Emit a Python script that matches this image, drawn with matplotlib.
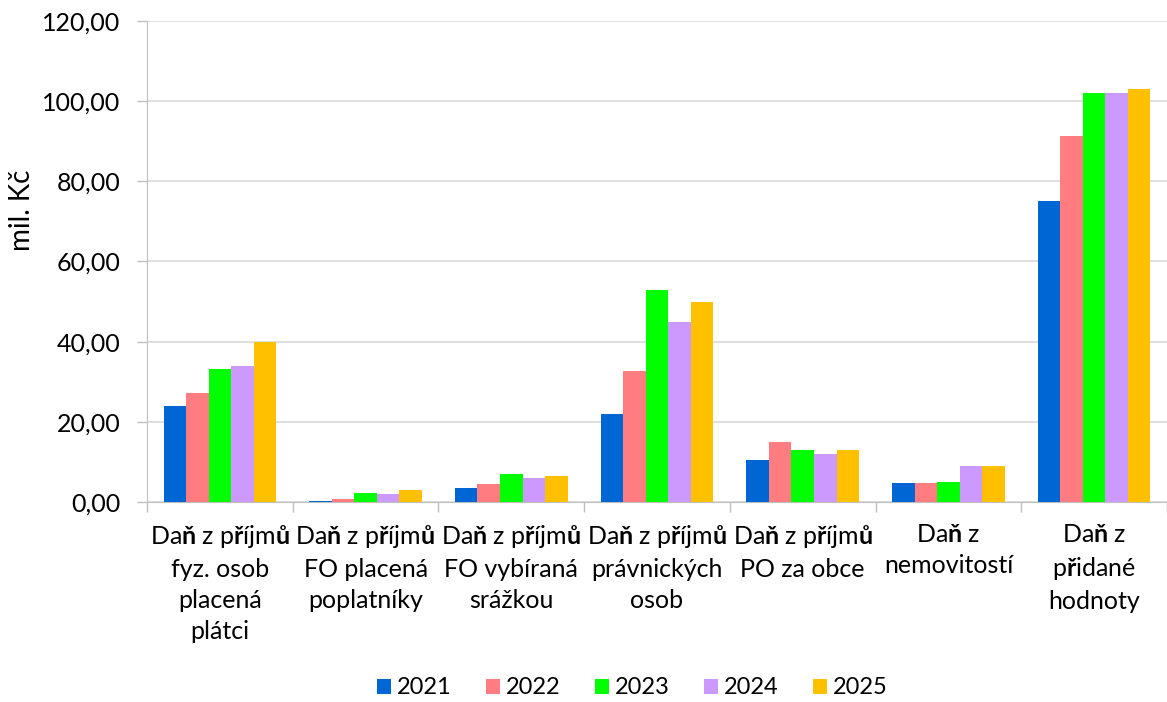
import matplotlib
matplotlib.use("Agg")
import matplotlib.pyplot as plt
import numpy as np
from matplotlib.ticker import FuncFormatter, FixedLocator

plt.rcParams['font.family'] = ['Lato', 'DejaVu Sans']
plt.rcParams['mathtext.fontset'] = 'custom'
plt.rcParams['mathtext.rm'] = 'Lato'
plt.rcParams['mathtext.bf'] = 'Lato:bold'

categories = [
    "Da$\\mathbf{ň}$ z p$\\mathbf{ř}$íjm$\\mathbf{ů}$\nfyz. osob\nplacená\nplátci",
    "Da$\\mathbf{ň}$ z p$\\mathbf{ř}$íjm$\\mathbf{ů}$\nFO placená\npoplatníky",
    "Da$\\mathbf{ň}$ z p$\\mathbf{ř}$íjm$\\mathbf{ů}$\nFO vybíraná\nsrážkou",
    "Da$\\mathbf{ň}$ z p$\\mathbf{ř}$íjm$\\mathbf{ů}$\nprávnických\nosob",
    "Da$\\mathbf{ň}$ z p$\\mathbf{ř}$íjm$\\mathbf{ů}$\nPO za obce",
    "Da$\\mathbf{ň}$ z\nnemovitostí",
    "Da$\\mathbf{ň}$ z\np$\\mathbf{ř}$idané\nhodnoty",
]
years = ["2021", "2022", "2023", "2024", "2025"]
v2021 = [24.0, 0.2, 3.4, 22.0, 10.4, 4.8, 75.0]
v2022 = [27.1, 0.8, 4.5, 32.8, 14.9, 4.8, 91.3]
v2023 = [33.1, 2.3, 7.1, 53.0, 12.9, 5.1, 102.0]
v2024 = [33.9, 1.9, 6.0, 44.9, 11.9, 9.1, 102.0]
v2025 = [40.0, 2.9, 6.4, 50.0, 12.9, 9.1, 103.0]
series = [v2021, v2022, v2023, v2024, v2025]
colors = ["#0066D4", "#FF7C80", "#00FF00", "#CC99FF", "#FFC000"]

W, H = 1167, 702
fig = plt.figure(figsize=(W / 100, H / 100), dpi=100)
ax = fig.add_axes([147 / W, (702 - 502) / H, (1167 - 147) / W, (502 - 21) / H])

x = np.arange(len(categories))
bw = 0.1547
for i, (vals, col, yr) in enumerate(zip(series, colors, years)):
    ax.bar(x + (i - 2) * bw, vals, width=bw, color=col, label=yr, zorder=3)

ax.set_xlim(-0.5, len(categories) - 0.5)
ax.set_ylim(0, 120)
ax.yaxis.set_major_locator(FixedLocator(np.arange(0, 121, 20)))
ax.yaxis.set_major_formatter(FuncFormatter(lambda v, p: f"{v:.2f}".replace('.', ',')))
ax.grid(axis='y', color='#D9D9D9', linewidth=1.2, zorder=0)

ax.set_xticks(x)
ax.set_xticklabels(categories, fontsize=18, linespacing=1.42)
ax.set_xticks(np.arange(-0.5, len(categories), 1), minor=True)
ax.tick_params(axis='x', which='major', length=0, pad=15)
ax.tick_params(axis='x', which='minor', length=7, color='#BFBFBF', width=1)
ax.tick_params(axis='y', which='major', length=7, color='#BFBFBF', width=1, labelsize=18, pad=12)

for s in ['top', 'right']:
    ax.spines[s].set_visible(False)
ax.spines['left'].set_color('#BFBFBF')
ax.spines['bottom'].set_color('#BFBFBF')

fig.text(22 / W, 1 - 210 / H, "mil. Kč", rotation=90, ha='center', va='center', fontsize=20)

fig.legend(loc='center', bbox_to_anchor=(632 / W, 1 - 688 / H), ncol=5, frameon=False,
           fontsize=17, handlelength=0.6, handleheight=0.6, handletextpad=0.25,
           columnspacing=1.45)

fig.savefig("out.png", dpi=100)
